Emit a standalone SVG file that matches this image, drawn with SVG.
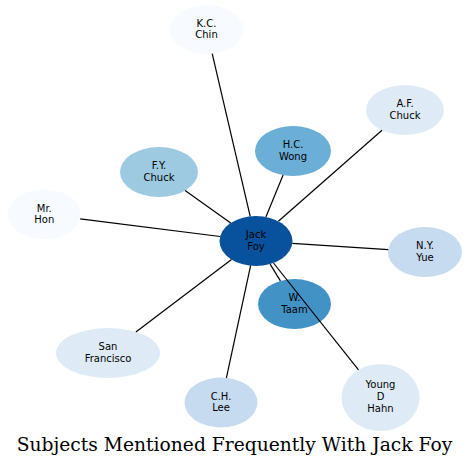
<svg xmlns="http://www.w3.org/2000/svg" width="469" height="467" viewBox="0 0 469 467">
<style>
.node text{font-family:"DejaVu Sans",sans-serif;font-size:10px;fill:#000;text-anchor:middle}
.edges line{stroke:#000;stroke-width:1.2}
.title{font-family:"DejaVu Serif",serif;font-size:18.7px;fill:#000;text-anchor:middle}
.c0{fill:#f7fbff}.c1{fill:#deebf7}.c2{fill:#c6dbef}.c3{fill:#9ecae1}.c4{fill:#6baed6}.c5{fill:#4292c6}.c6{fill:#08519c}
</style>
<rect width="469" height="467" fill="#fff"/>
<g id="n-kcchin" class="node"><ellipse class="c0" cx="206.5" cy="29.5" rx="36.5" ry="24.5"/><text x="206.5" y="26.7">K.C.</text><text x="206.5" y="38.2">Chin</text></g>
<g id="n-afchuck" class="node"><ellipse class="c1" cx="405" cy="110" rx="39" ry="25"/><text x="405" y="107.2">A.F.</text><text x="405" y="118.7">Chuck</text></g>
<g id="n-hcwong" class="node"><ellipse class="c4" cx="293" cy="151" rx="38" ry="25"/><text x="293" y="148.2">H.C.</text><text x="293" y="159.7">Wong</text></g>
<g id="n-fychuck" class="node"><ellipse class="c3" cx="159" cy="172" rx="39" ry="25"/><text x="159" y="169.2">F.Y.</text><text x="159" y="180.7">Chuck</text></g>
<g id="n-mrhon" class="node"><ellipse class="c0" cx="44.3" cy="214.3" rx="36.5" ry="25"/><text x="44.3" y="211.5">Mr.</text><text x="44.3" y="223">Hon</text></g>
<g id="n-jackfoy" class="node"><ellipse class="c6" cx="256" cy="241" rx="36.5" ry="25"/><text x="256" y="238.2">Jack</text><text x="256" y="249.7">Foy</text></g>
<g id="n-nyyue" class="node"><ellipse class="c2" cx="425" cy="252" rx="37" ry="25"/><text x="425" y="249.2">N.Y.</text><text x="425" y="260.7">Yue</text></g>
<g id="n-wtaam" class="node"><ellipse class="c5" cx="294.5" cy="304" rx="36.5" ry="25"/><text x="294.5" y="301.2">W.</text><text x="294.5" y="312.7">Taam</text></g>
<g id="n-sanfrancisco" class="node"><ellipse class="c1" cx="108" cy="353" rx="52" ry="25"/><text x="108" y="350.2">San</text><text x="108" y="361.7">Francisco</text></g>
<g id="n-chlee" class="node"><ellipse class="c2" cx="221" cy="402.5" rx="36.5" ry="25"/><text x="221" y="399.7">C.H.</text><text x="221" y="411.2">Lee</text></g>
<g id="n-youngdhahn" class="node"><ellipse class="c1" cx="380.5" cy="397.5" rx="39" ry="33.5"/><text x="380.5" y="388.3">Young</text><text x="380.5" y="400">D</text><text x="380.5" y="411.7">Hahn</text></g>
<g id="edges" class="edges">
<line x1="212.2" y1="53.7" x2="250.2" y2="216.3"/>
<line x1="382" y1="130.2" x2="278.4" y2="221.3"/>
<line x1="283.1" y1="175.1" x2="265.9" y2="216.9"/>
<line x1="185.1" y1="190.6" x2="230.7" y2="223"/>
<line x1="80.2" y1="218.8" x2="220.1" y2="236.5"/>
<line x1="388.2" y1="249.6" x2="292.3" y2="243.4"/>
<line x1="135.9" y1="331.9" x2="231.5" y2="259.5"/>
<line x1="226.4" y1="377.8" x2="250.6" y2="265.7"/>
<line x1="358.5" y1="369.8" x2="273.5" y2="263"/>
<line x1="280.4" y1="280.9" x2="270.1" y2="264.1"/>
</g>
<text class="title" x="234.5" y="450.5">Subjects Mentioned Frequently With Jack Foy</text>
</svg>
